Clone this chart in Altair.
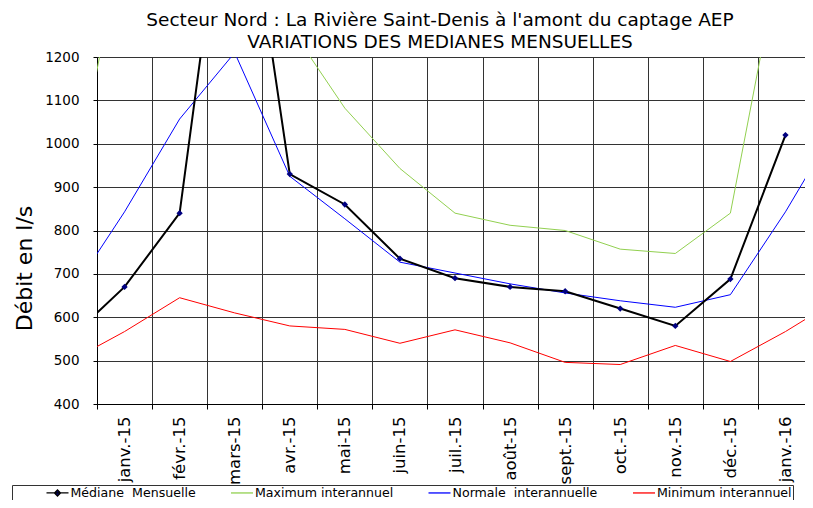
import altair as alt
import pandas as pd

# Mois (déc.-14 et févr.-16 ne servent qu'aux segments coupés aux bords)
mois = ["déc.-14", "janv.-15", "févr.-15", "mars-15", "avr.-15", "mai-15",
        "juin-15", "juil.-15", "août-15", "sept.-15", "oct.-15", "nov.-15",
        "déc.-15", "janv.-16", "févr.-16"]
rang = list(range(-1, 14))

mediane = [550, 670, 840, 1790, 930, 860, 735, 690, 670, 660, 620, 580, 688, 1020, None]
maximum = [840, 1500, 1600, 1800, 1270, 1082, 943, 840, 812, 800, 757, 747, 840, 1500, 1600]
normale = [650, 843, 1057, 1210, 925, 827, 727, 702, 677, 656, 638, 623, 652, 843, 1057]
minimum = [498, 567, 645, 610, 580, 572, 540, 571, 541, 496, 491, 535, 498, 567, 645]

series = ["Médiane\u00a0 Mensuelle", "Maximum interannuel",
          "Normale\u00a0 interannuelle", "Minimum interannuel"]
couleurs = ["#000000", "#92D050", "#0000FF", "#FF0000"]
valeurs = [mediane, maximum, normale, minimum]

rows = []
for s, vals in zip(series, valeurs):
    for i, m, v in zip(rang, mois, vals):
        if v is not None:
            rows.append({"serie": s, "rang": i, "mois": m, "debit": v})
df = pd.DataFrame(rows)

band = 716 / 13.0          # largeur d'un mois en pixels
W, H = 708, 347            # zone de tracé coupée au bord droit, comme l'original
x_max = -0.5 + W / band
etiquettes = mois[1:14]
label_expr = "[" + ",".join("'" + m + "'" for m in etiquettes) + "][round(datum.value + 0.5)] || ''"

FONT = "DejaVu Sans"

x_enc = alt.X("rang:Q",
              scale=alt.Scale(domain=[-0.5, x_max], nice=False, zero=False),
              axis=alt.Axis(values=[i - 0.5 for i in range(13)], labelExpr=label_expr,
                            labelOffset=band / 2, labelAngle=270, labelAlign="right",
                            labelBaseline="middle", labelPadding=7, tickSize=5,
                            labelFontSize=16.5, labelFlush=False, labelOverlap=False,
                            title=None, grid=True))
y_enc = alt.Y("debit:Q",
              scale=alt.Scale(domain=[400, 1200], nice=False, zero=False),
              axis=alt.Axis(values=list(range(400, 1300, 100)), format="d",
                            title="Débit en l/s",
                            titleFontSize=22, titleFontWeight="normal", titleY=211,
                            titlePadding=8, labelFontSize=13.5, labelPadding=14, tickSize=4,
                            grid=True))

trait = "M-2,0H2"
trait_losange = "M-2,0H2M-0.55,0L0,-0.55L0.55,0L0,0.55Z"

color_scale = alt.Scale(domain=series, range=couleurs)
shape_scale = alt.Scale(domain=series, range=[trait_losange, trait, trait, trait])
legend = alt.Legend(orient="none", legendX=-85, legendY=428, direction="horizontal",
                    columns=4, title="\u00a0", titleOrient="left", titlePadding=38,
                    titleFontSize=4, labelFontSize=12.6, labelFont=FONT,
                    labelOffset=6.5, symbolSize=121, symbolStrokeWidth=1.3,
                    columnPadding=31.5, padding=1, strokeColor="#333333",
                    fillColor="white", symbolType=trait)

base = alt.Chart(df)

autres = base.transform_filter(alt.datum.serie != series[0]).mark_line(
    strokeWidth=1, clip=True).encode(
    x=x_enc, y=y_enc,
    color=alt.Color("serie:N", scale=color_scale, legend=legend),
    detail="serie:N")

med_line = base.transform_filter(alt.datum.serie == series[0]).mark_line(
    strokeWidth=2, clip=True).encode(
    x=x_enc, y=y_enc,
    color=alt.Color("serie:N", scale=color_scale, legend=legend))

med_pts = base.transform_filter(
    (alt.datum.serie == series[0]) & (alt.datum.rang >= 0) & (alt.datum.rang <= 12)
).mark_point(filled=True, size=40, clip=True, shape="diamond", fill="#000080",
             opacity=1).encode(x=x_enc, y=y_enc)

# couche vide : ne sert qu'à donner à la légende le symbole trait + losange
leg_shape = base.transform_filter("false").mark_point(
    filled=True, fill="#000080", opacity=1).encode(
    x=x_enc, y=y_enc,
    shape=alt.Shape("serie:N", scale=shape_scale, legend=legend))

chart = alt.layer(autres, med_line, med_pts, leg_shape).properties(
    width=W, height=H,
    autosize=alt.AutoSizeParams(type="none"),
    padding={"left": 89, "top": 49, "right": 0, "bottom": 96},
    title=alt.TitleParams(
        text=["Secteur Nord : La Rivière Saint-Denis à l'amont du captage AEP",
              "VARIATIONS DES MEDIANES MENSUELLES"],
        fontSize=18.5, font=FONT, fontWeight="normal", color="black",
        lineHeight=22, anchor="middle", dx=-11, offset=-1)
).configure(font=FONT).configure_view(strokeWidth=0).configure_axis(
    gridColor="#333333", gridOpacity=1, gridWidth=1,
    domainColor="#000000", tickColor="#000000",
    labelColor="#000000", titleColor="#000000", labelFont=FONT, titleFont=FONT
)

chart.save("out.html", embed_options={"renderer": "svg", "actions": False})
